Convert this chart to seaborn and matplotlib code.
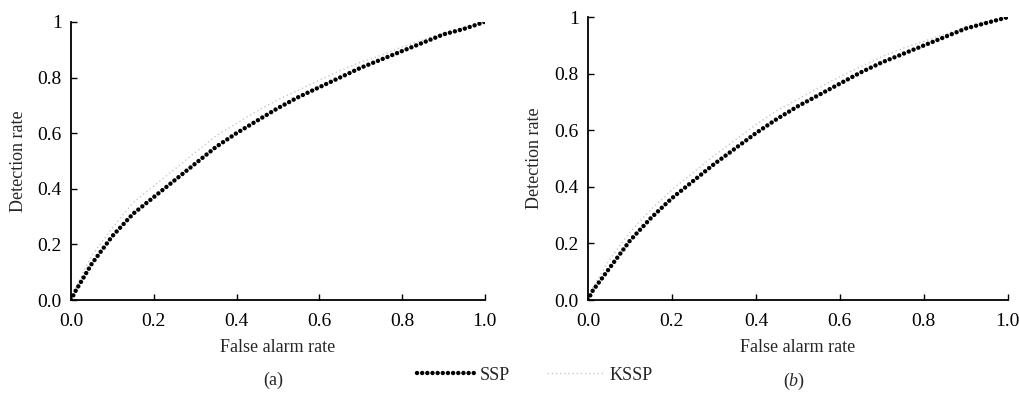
import numpy as np
import pandas as pd
import matplotlib
matplotlib.use("Agg")
import matplotlib.pyplot as plt
import seaborn as sns
from matplotlib.lines import Line2D

# ---- data ----
far = [0.0, 0.01, 0.03, 0.05, 0.10, 0.15, 0.20, 0.25, 0.30, 0.35, 0.40, 0.45,
       0.50, 0.55, 0.60, 0.65, 0.70, 0.75, 0.80, 0.85, 0.90, 0.95, 1.00]
ssp_a = [0.0, 0.03, 0.08, 0.13, 0.23, 0.31, 0.37, 0.43, 0.49, 0.55, 0.60, 0.645,
         0.69, 0.73, 0.765, 0.80, 0.835, 0.865, 0.895, 0.925, 0.955, 0.975, 1.0]
kssp_a = [0.0, 0.04, 0.10, 0.16, 0.26, 0.35, 0.41, 0.47, 0.53, 0.59, 0.635, 0.68,
          0.72, 0.755, 0.79, 0.825, 0.855, 0.88, 0.91, 0.935, 0.96, 0.98, 1.0]
ssp_b = [0.0, 0.03, 0.07, 0.11, 0.21, 0.29, 0.36, 0.42, 0.48, 0.535, 0.59, 0.64,
         0.685, 0.725, 0.765, 0.805, 0.84, 0.87, 0.90, 0.93, 0.96, 0.98, 1.0]
kssp_b = [0.0, 0.04, 0.09, 0.14, 0.24, 0.32, 0.39, 0.45, 0.51, 0.565, 0.62, 0.67,
          0.71, 0.75, 0.79, 0.825, 0.86, 0.89, 0.915, 0.94, 0.965, 0.985, 1.0]
x_ticks = [0.0, 0.2, 0.4, 0.6, 0.8, 1.0]
x_ticklabels = ["0.0", "0.2", "0.4", "0.6", "0.8", "1.0"]
y_ticks = [0.0, 0.2, 0.4, 0.6, 0.8, 1.0]
y_ticklabels = ["0.0", "0.2", "0.4", "0.6", "0.8", "1"]
panel_labels = ["(a)", "($b$)"]
series_names = ["SSP", "KSSP"]

sns.set_style("ticks")
plt.rcParams["font.family"] = ["Liberation Serif", "DejaVu Serif"]
plt.rcParams["mathtext.fontset"] = "custom"
plt.rcParams["mathtext.it"] = "Liberation Serif:italic"
plt.rcParams["font.size"] = 13

fig = plt.figure(figsize=(10.19, 3.95), dpi=100)
ax_a = fig.add_axes([0.0697, 0.2405, 0.406, 0.704])
ax_b = fig.add_axes([0.577, 0.2405, 0.412, 0.716])

ssp_style = dict(color="black", linewidth=3.2, linestyle=(0, (0.01, 1.15)),
                 dash_capstyle="round")
kssp_style = dict(color="#c8c8c8", linewidth=1.0, linestyle=(0, (1, 2)))

for ax, ssp, kssp, lab in [(ax_a, ssp_a, kssp_a, panel_labels[0]),
                           (ax_b, ssp_b, kssp_b, panel_labels[1])]:
    df = pd.DataFrame({"far": far, "SSP": ssp, "KSSP": kssp})
    sns.lineplot(data=df, x="far", y="KSSP", ax=ax, **kssp_style)
    sns.lineplot(data=df, x="far", y="SSP", ax=ax, **ssp_style)
    ax.set_xlim(0, 1.0)
    ax.set_ylim(0, 1.0)
    ax.set_xticks(x_ticks)
    ax.set_xticklabels(x_ticklabels)
    ax.set_yticks(y_ticks)
    ax.set_yticklabels(y_ticklabels)
    ax.tick_params(direction="in", length=4, width=1, labelsize=14,
                   colors="black")
    ax.tick_params(axis="x", pad=9)
    ax.tick_params(axis="y", pad=6.5)
    for s in ["top", "right"]:
        ax.spines[s].set_visible(False)
    for s in ["left", "bottom"]:
        ax.spines[s].set_linewidth(1.3)
        ax.spines[s].set_color("black")
    ax.set_xlabel("False alarm rate", fontsize=13, labelpad=7)
    ax.set_ylabel("Detection rate", fontsize=13, labelpad=8)
    ax.text(0.49, -0.288, lab, transform=ax.transAxes, ha="center",
            va="center", fontsize=13)

handles = [Line2D([], [], **ssp_style), Line2D([], [], **kssp_style)]
fig.legend(handles, series_names, loc="center", bbox_to_anchor=(0.525, 0.05),
           ncol=2, frameon=False, fontsize=13, handlelength=3.2,
           columnspacing=2.1, handletextpad=0.25, borderpad=0.1)

fig.savefig("out.png", dpi=100)
